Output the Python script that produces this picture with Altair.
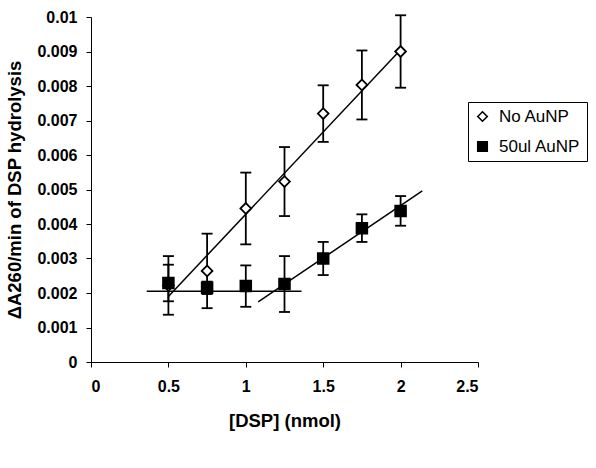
import altair as alt
import pandas as pd

# ---- data ----
dsp = [0.5, 0.75, 1.0, 1.25, 1.5, 1.75, 2.0]
no_aunp = [0.00222, 0.00264, 0.00445, 0.00523, 0.0072, 0.00803, 0.0090]
no_aunp_err = [0.00085, 0.00108, 0.00104, 0.0010, 0.00082, 0.0010, 0.00105]
aunp50 = [0.00229, 0.00215, 0.0022, 0.00226, 0.00300, 0.00388, 0.00438]
aunp50_err = [0.00053, 0.00018, 0.0006, 0.00081, 0.00048, 0.0004, 0.00043]

series_names = ["No AuNP", "50ul AuNP"]

# fitted trend line segments (x start, x end, y start, y end)
fit_name = ["fit1", "fit2", "fit3"]
fit_x0 = [0.5, 0.36, 1.08]
fit_x1 = [2.0, 1.36, 2.14]
fit_y0 = [0.0019, 0.00205, 0.00174]
fit_y1 = [0.00905, 0.00205, 0.00496]

y_ticks = [0, 0.001, 0.002, 0.003, 0.004, 0.005, 0.006, 0.007, 0.008, 0.009, 0.01]
x_ticks = [0, 0.5, 1, 1.5, 2, 2.5]

rows = []
for name, vals, errs in [(series_names[0], no_aunp, no_aunp_err),
                         (series_names[1], aunp50, aunp50_err)]:
    for x, v, e in zip(dsp, vals, errs):
        rows.append({"series": name, "x": x, "y": v, "lo": v - e, "hi": v + e})
df = pd.DataFrame(rows)

fits = []
for n, a, b, c, d in zip(fit_name, fit_x0, fit_x1, fit_y0, fit_y1):
    fits.append({"fit": n, "x": a, "y": c})
    fits.append({"fit": n, "x": b, "y": d})
fit_df = pd.DataFrame(fits)

FONT = "Liberation Sans"

xscale = alt.Scale(domain=[0, 2.5], nice=False)
yscale = alt.Scale(domain=[0, 0.01], nice=False)

xaxis = alt.Axis(values=x_ticks, format="~g", title="[DSP] (nmol)",
                 titleY=64, titleBaseline="alphabetic", labelOverlap=False)
yaxis = alt.Axis(values=y_ticks, format="~g", title="ΔA260/min of DSP hydrolysis",
                 titleX=-71, titleBaseline="alphabetic", labelOverlap=False)


def X(field):
    return alt.X(field, scale=xscale, axis=xaxis)


def Y(field):
    return alt.Y(field, scale=yscale, axis=yaxis)


lines = alt.Chart(fit_df).mark_line(color="black", strokeWidth=1.5).encode(
    x=X("x:Q"), y=Y("y:Q"), detail="fit:N",
)

bars = alt.Chart(df).mark_rule(color="black", strokeWidth=1.8).encode(
    x=X("x:Q"), y=Y("lo:Q"), y2="hi:Q",
)

caps_lo = alt.Chart(df).mark_tick(color="black", thickness=1.8, size=11,
                                  orient="horizontal", opacity=1).encode(
    x=X("x:Q"), y=Y("lo:Q"),
)
caps_hi = alt.Chart(df).mark_tick(color="black", thickness=1.8, size=11,
                                  orient="horizontal", opacity=1).encode(
    x=X("x:Q"), y=Y("hi:Q"),
)

legend = alt.Legend(title=None, symbolStrokeWidth=1.6)

points = alt.Chart(df).mark_point(strokeWidth=1.8, size=115, opacity=1).encode(
    x=X("x:Q"),
    y=Y("y:Q"),
    shape=alt.Shape("series:N",
                    scale=alt.Scale(domain=series_names, range=["diamond", "square"]),
                    legend=legend),
    fill=alt.Fill("series:N",
                  scale=alt.Scale(domain=series_names, range=["white", "black"]),
                  legend=legend),
    stroke=alt.Stroke("series:N",
                      scale=alt.Scale(domain=series_names, range=["black", "black"]),
                      legend=legend),
)

chart = alt.layer(lines, bars, caps_lo, caps_hi, points).properties(
    width=387, height=345,
    autosize=alt.AutoSizeParams(type="none"),
    padding={"left": 91, "top": 17, "right": 118, "bottom": 106},
).configure_view(stroke=None).configure_axis(
    grid=False,
    labelOverlap=False,
    domainColor="black",
    tickColor="black",
    domainWidth=1,
    tickWidth=1,
    tickSize=5,
    labelFont=FONT,
    labelFontSize=16,
    labelFontWeight="bold",
    labelColor="black",
    titleFont=FONT,
    titleFontSize=18.5,
    titleFontWeight="bold",
    titleColor="black",
).configure_axisX(labelPadding=11).configure_axisY(labelPadding=9).configure_legend(
    orient="none",
    legendX=377,
    legendY=85,
    padding=6,
    strokeColor="black",
    fillColor="white",
    labelFont=FONT,
    labelFontSize=17,
    labelColor="black",
    symbolSize=90,
    rowPadding=12,
    labelOffset=8,
)

chart.save("out.html", embed_options={"renderer": "svg", "actions": False})
